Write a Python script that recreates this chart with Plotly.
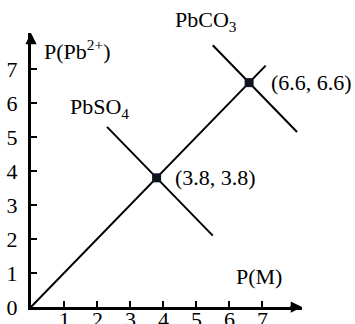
import plotly.graph_objects as go

# data
diag_x = [0, 7.1]
diag_y = [0, 7.1]
pbso4_x = [2.3, 5.5]
pbso4_y = [5.3, 2.1]
pbco3_x = [5.5, 8.05]
pbco3_y = [7.7, 5.15]
pt_x = [3.8, 6.6]
pt_y = [3.8, 6.6]
pt_labels = ["(3.8, 3.8)", "(6.6, 6.6)"]
y_ticks = [0, 1, 2, 3, 4, 5, 6, 7]
x_ticks = [1, 2, 3, 4, 5, 6, 7]

XMAX, YMAX = 8.2, 8.06
PLOT_H = 274
FONT = "Liberation Serif"
fig = go.Figure()
line = dict(color="black", width=2)
fig.add_trace(go.Scatter(x=diag_x, y=diag_y, mode="lines", line=line))
fig.add_trace(go.Scatter(x=pbso4_x, y=pbso4_y, mode="lines", line=line))
fig.add_trace(go.Scatter(x=pbco3_x, y=pbco3_y, mode="lines", line=line))
fig.add_trace(go.Scatter(x=pt_x, y=pt_y, mode="markers",
                         marker=dict(symbol="square", size=9, color="#111522")))

anns = []
# axis arrowheads
anns.append(dict(x=0, y=YMAX, ax=0, ay=7.7, axref="x", ayref="y", xref="x", yref="y",
                 showarrow=True, arrowhead=2, arrowsize=0.9, arrowwidth=2.5, arrowcolor="black", text=""))
anns.append(dict(x=XMAX, y=0, ax=7.8, ay=0, axref="x", ayref="y", xref="x", yref="y",
                 showarrow=True, arrowhead=2, arrowsize=0.9, arrowwidth=2.5, arrowcolor="black", text=""))
f = dict(family=FONT, size=22, color="black")
def P(x, y, anchor="center"):
    return dict(x=x / XMAX, y=y / YMAX, xref="paper", yref="paper",
                xanchor=anchor, yanchor="middle", showarrow=False, font=f)
anns.append(dict(**P(1.4, 7.55), text="P(Pb<sup>2+</sup>)"))
anns.append(dict(**P(2.07, 5.85), text="PbSO<sub>4</sub>"))
anns.append(dict(**P(5.3, 8.4), text="PbCO<sub>3</sub>"))
anns.append(dict(**P(4.3, 3.8, "left"), text=pt_labels[0]))
anns.append(dict(**P(7.2, 6.6, "left"), text=pt_labels[1]))
anns.append(dict(**P(6.9, 0.9), text="P(M)"))
# x tick labels (sit lower than plotly's default placement, partly cut off)
for v in x_ticks:
    anns.append(dict(x=v, xref="x", y=-13 / PLOT_H, yref="paper", text=str(v),
                     showarrow=False, xanchor="center", yanchor="middle", font=f))

fig.update_layout(
    width=355, height=324,
    margin=dict(l=31, r=53, t=33, b=17),
    plot_bgcolor="white", paper_bgcolor="white",
    showlegend=False,
    annotations=anns,
    xaxis=dict(range=[0, XMAX], showgrid=False, zeroline=False, showline=True,
               linecolor="black", linewidth=3, ticks="inside", ticklen=6, tickwidth=1.5,
               tickcolor="black", tickvals=x_ticks, showticklabels=False,
               automargin=False, fixedrange=True),
    yaxis=dict(range=[0, YMAX], showgrid=False, zeroline=False, showline=True,
               linecolor="black", linewidth=3, ticks="inside", ticklen=6, tickwidth=1.5,
               tickcolor="black", tickvals=y_ticks, ticktext=[str(v) for v in y_ticks],
               tickfont=dict(family=FONT, size=22, color="black"), automargin=False,
               ticklabelstandoff=6, fixedrange=True),
)
fig.write_html("out.html")
